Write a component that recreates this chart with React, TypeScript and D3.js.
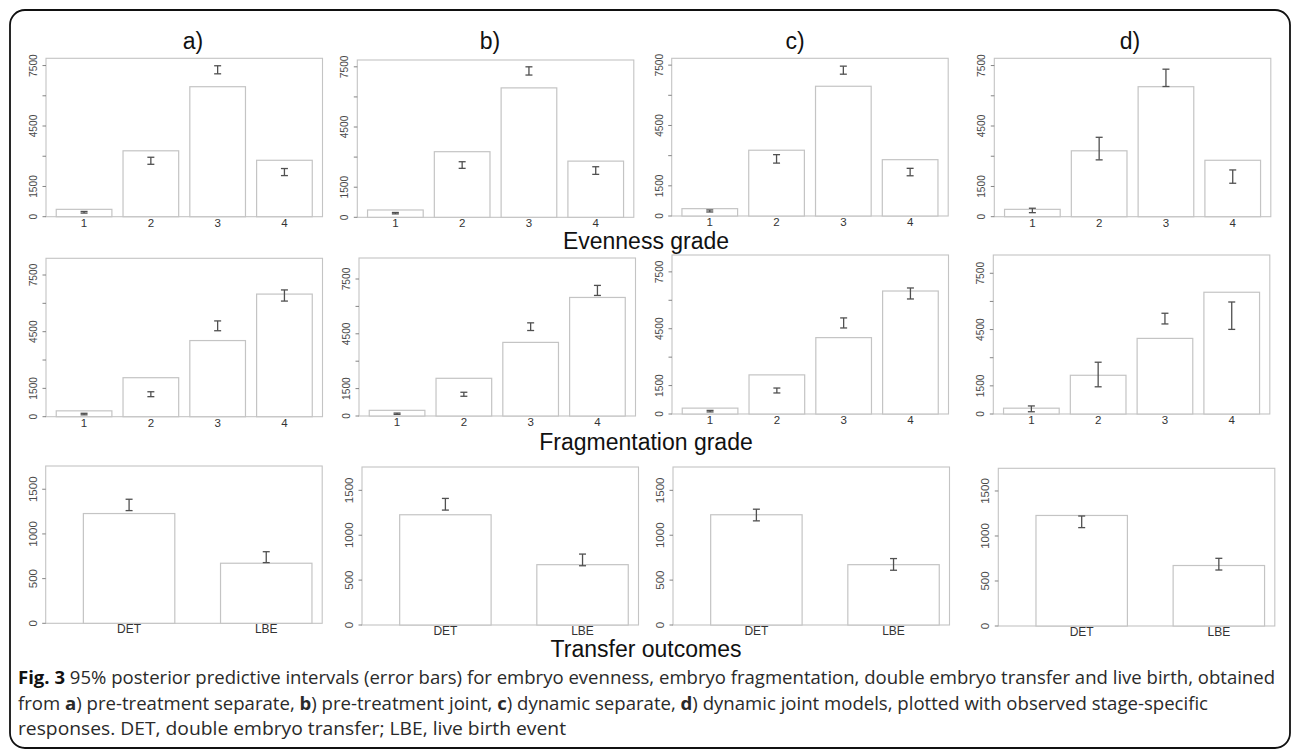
import React from "react";
import * as d3 from "d3";

// ---------------- DATA ----------------
const panelTitles = ["a)", "b)", "c)", "d)"];

const gradeCategories = ["1", "2", "3", "4"];
const transferCategories = ["DET", "LBE"];

const gradeTicks = [0, 1500, 3000, 4500, 6000, 7500];
const gradeTickLabels = ["0", "1500", "", "4500", "", "7500"];
const transferTicks = [0, 500, 1000, 1500];
const transferTickLabels = ["0", "500", "1000", "1500"];

const evennessObserved = [365, 3270, 6450, 2800];
const evennessLower = [
  [180, 2600, 7090, 2040],
  [170, 2440, 7090, 2140],
  [200, 2630, 7050, 2000],
  [200, 2820, 6460, 1660],
];
const evennessUpper = [
  [260, 2950, 7490, 2390],
  [240, 2770, 7500, 2520],
  [300, 3050, 7450, 2370],
  [420, 3940, 7320, 2320],
];

const fragmentationObserved = [310, 2064, 4030, 6490];
const fragmentationLower = [
  [100, 1060, 4550, 6120],
  [90, 1080, 4680, 6600],
  [110, 1110, 4540, 6070],
  [120, 1450, 4800, 4510],
];
const fragmentationUpper = [
  [180, 1320, 5070, 6710],
  [160, 1300, 5100, 7150],
  [190, 1370, 5070, 6650],
  [430, 2760, 5370, 5970],
];

const transferObserved = [1228, 672];
const transferLower = [
  [1261, 679],
  [1280, 660],
  [1160, 610],
  [1093, 622],
];
const transferUpper = [
  [1388, 801],
  [1410, 790],
  [1290, 740],
  [1222, 752],
];

const evennessYMax = [7860, 7840, 7840, 7860];
const fragmentationYMax = [8384, 8650, 8390, 8475];
const transferYMax = [1760, 1760, 1760, 1752];

const rowLabels = ["Evenness grade", "Fragmentation grade", "Transfer outcomes"];

// ---------------- LAYOUT ----------------
const W = 1293;
const H = 753;
const BOX_W = 276.5;

const rowLayout = [
  { lefts: [46, 357.3, 671.7, 994.3], tops: [58.3, 60, 58.3, 58.3], bottoms: [216.7, 217.3, 216, 216.7] },
  { lefts: [46, 359, 672, 993.3], tops: [258.3, 258, 255, 255], bottoms: [416.7, 416, 414, 414] },
  { lefts: [45.7, 362, 673, 998.3], tops: [466, 467, 467, 468.3], bottoms: [623.3, 625, 625, 626] },
];

const titleX = [193, 490, 795, 1130];

const GRAY_LINE = "#c4c4c4";
const ERR = "#505050";
const TICK_TXT = "#4a4a4a";

type PanelProps = {
  left: number;
  top: number;
  bottom: number;
  categories: string[];
  observed: number[];
  lower: number[];
  upper: number[];
  yMax: number;
  ticks: number[];
  tickLabels: string[];
  kind: "grade" | "transfer";
};

function Panel(p: PanelProps) {
  // R barplot conventions
  let xDomain: [number, number];
  let barL: number[];
  let barR: number[];
  if (p.kind === "grade") {
    const space = 0.2;
    barL = p.categories.map((_, i) => space + i * (1 + space));
    barR = barL.map((v) => v + 1);
    const lo = barL[0];
    const hi = barR[barR.length - 1];
    const ext = (hi - lo) * 0.04;
    xDomain = [lo - ext, hi + ext];
  } else {
    const space = 0.5;
    barL = p.categories.map((_, i) => space + i * (1 + space));
    barR = barL.map((v) => v + 1);
    const lo = 0.2;
    const hi = 3;
    const ext = (hi - lo) * 0.04;
    xDomain = [lo - ext, hi + ext];
  }
  const x = d3.scaleLinear().domain(xDomain).range([p.left, p.left + BOX_W]);
  const y = d3.scaleLinear().domain([0, p.yMax]).range([p.bottom, p.top]);

  const tickFont = p.kind === "grade" ? 10.2 : 11.5;
  const xFont = p.kind === "grade" ? 11.5 : 12;

  return (
    <g>
      <rect
        x={p.left}
        y={p.top}
        width={BOX_W}
        height={p.bottom - p.top}
        fill="none"
        stroke={GRAY_LINE}
        strokeWidth={1.1}
      />
      {p.categories.map((c, i) => (
        <rect
          key={"b" + i}
          x={x(barL[i])}
          y={y(p.observed[i])}
          width={x(barR[i]) - x(barL[i])}
          height={y(0) - y(p.observed[i])}
          fill="white"
          stroke={GRAY_LINE}
          strokeWidth={1.2}
        />
      ))}
      {p.categories.map((c, i) => {
        const cx = (x(barL[i]) + x(barR[i])) / 2;
        const y1 = y(p.lower[i]);
        const y2 = y(p.upper[i]);
        return (
          <g key={"e" + i} stroke={ERR} strokeWidth={1.3}>
            <line x1={cx} x2={cx} y1={y1} y2={y2} />
            <line x1={cx - 3.5} x2={cx + 3.5} y1={y1} y2={y1} />
            <line x1={cx - 3.5} x2={cx + 3.5} y1={y2} y2={y2} />
          </g>
        );
      })}
      {p.categories.map((c, i) => (
        <text
          key={"x" + i}
          x={(x(barL[i]) + x(barR[i])) / 2}
          y={p.bottom + 10}
          fontSize={xFont}
          fill="#333"
          textAnchor="middle"
          fontFamily="Liberation Sans, Arial, sans-serif"
        >
          {c}
        </text>
      ))}
      {p.ticks.map((t, i) => (
        <g key={"t" + i}>
          <line x1={p.left - 3.5} x2={p.left} y1={y(t)} y2={y(t)} stroke="#777" strokeWidth={0.9} />
          {p.tickLabels[i] !== "" && (
            <text
              transform={`translate(${p.left - 9},${y(t)}) rotate(-90)`}
              fontSize={tickFont}
              fill={TICK_TXT}
              textAnchor="middle"
              fontFamily="Liberation Sans, Arial, sans-serif"
            >
              {p.tickLabels[i]}
            </text>
          )}
        </g>
      ))}
    </g>
  );
}

export default function App() {
  const rows = [
    { cats: gradeCategories, obs: evennessObserved, lo: evennessLower, hi: evennessUpper, ymax: evennessYMax, ticks: gradeTicks, labels: gradeTickLabels, kind: "grade" as const },
    { cats: gradeCategories, obs: fragmentationObserved, lo: fragmentationLower, hi: fragmentationUpper, ymax: fragmentationYMax, ticks: gradeTicks, labels: gradeTickLabels, kind: "grade" as const },
    { cats: transferCategories, obs: transferObserved, lo: transferLower, hi: transferUpper, ymax: transferYMax, ticks: transferTicks, labels: transferTickLabels, kind: "transfer" as const },
  ];
  const rowLabelY = [249, 450, 657];
  const sans = "Liberation Sans, Arial, sans-serif";
  const capFont = "'Open Sans', Lato, sans-serif";

  return (
    <div style={{ position: "absolute", left: 0, top: 0 }}>
      <svg width={W} height={H} viewBox={`0 0 ${W} ${H}`} style={{ display: "block", background: "white" }}>
        <rect x={0} y={0} width={W} height={H} fill="white" />
        <rect x={10} y={10} width={1280} height={738} rx={15} ry={15} fill="none" stroke="#111" strokeWidth={1.8} />
        {panelTitles.map((t, i) => (
          <text key={t} x={titleX[i]} y={49} fontSize={23} textAnchor="middle" fontFamily={sans} fill="#111">
            {t}
          </text>
        ))}
        {rows.map((r, ri) =>
          panelTitles.map((_, pi) => (
            <Panel
              key={ri + "-" + pi}
              left={rowLayout[ri].lefts[pi]}
              top={rowLayout[ri].tops[pi]}
              bottom={rowLayout[ri].bottoms[pi]}
              categories={r.cats}
              observed={r.obs}
              lower={r.lo[pi]}
              upper={r.hi[pi]}
              yMax={r.ymax[pi]}
              ticks={r.ticks}
              tickLabels={r.labels}
              kind={r.kind}
            />
          ))
        )}
        {rowLabels.map((l, i) => (
          <text key={l} x={646} y={rowLabelY[i]} fontSize={23} textAnchor="middle" fontFamily={sans} fill="#111">
            {l}
          </text>
        ))}
        <g fontFamily={capFont} fontSize={18} fill="#2a2a2a">
          <text x={18} y={684} textLength={1257} lengthAdjust="spacingAndGlyphs">
            <tspan fontWeight="bold" fill="#111">Fig. 3</tspan>
            <tspan> 95% posterior predictive intervals (error bars) for embryo evenness, embryo fragmentation, double embryo transfer and live birth, obtained</tspan>
          </text>
          <text x={18} y={710} textLength={1190} lengthAdjust="spacingAndGlyphs">
            <tspan>from </tspan>
            <tspan fontWeight="bold">a</tspan>
            <tspan>) pre-treatment separate, </tspan>
            <tspan fontWeight="bold">b</tspan>
            <tspan>) pre-treatment joint, </tspan>
            <tspan fontWeight="bold">c</tspan>
            <tspan>) dynamic separate, </tspan>
            <tspan fontWeight="bold">d</tspan>
            <tspan>) dynamic joint models, plotted with observed stage-specific</tspan>
          </text>
          <text x={18} y={735} textLength={548} lengthAdjust="spacingAndGlyphs">
            responses. DET, double embryo transfer; LBE, live birth event
          </text>
        </g>
      </svg>
    </div>
  );
}
